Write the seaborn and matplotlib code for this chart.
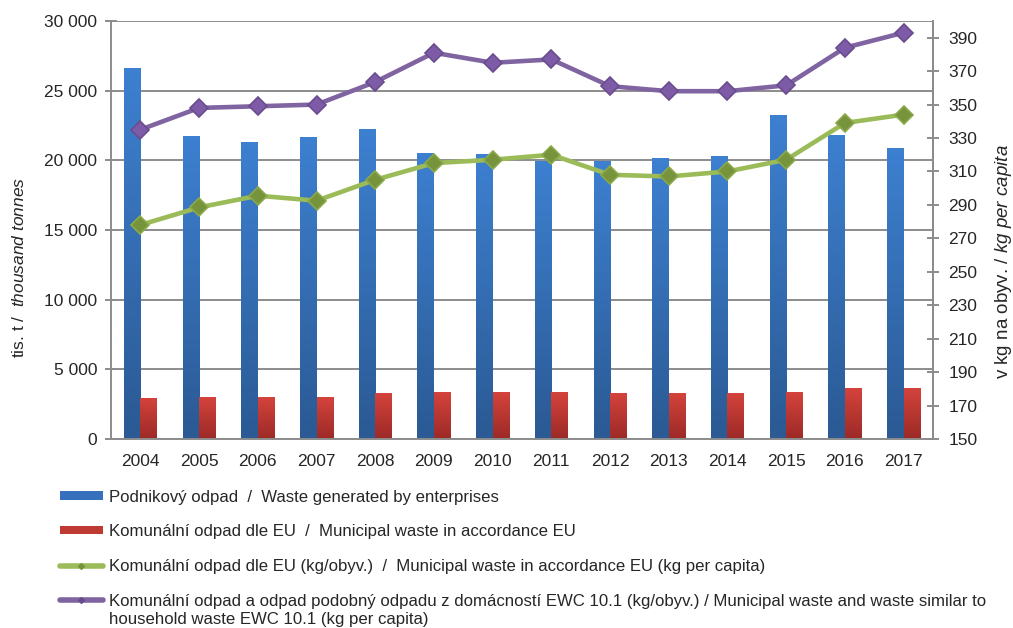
import numpy as np
import pandas as pd
import matplotlib
matplotlib.use('Agg')
import matplotlib.pyplot as plt
import seaborn as sns
from matplotlib.patches import Patch
from matplotlib.lines import Line2D
from matplotlib.colors import LinearSegmentedColormap

# values
years = ['2004', '2005', '2006', '2007', '2008', '2009', '2010',
         '2011', '2012', '2013', '2014', '2015', '2016', '2017']
enterprise_waste = [26600, 21750, 21320, 21680, 22250, 20530, 20450,
                    19970, 19950, 20170, 20310, 23250, 21820, 20890]
municipal_waste = [2950, 3010, 3010, 3000, 3300, 3370, 3370,
                   3370, 3300, 3300, 3300, 3370, 3660, 3660]
municipal_per_capita = [278, 288.5, 295.5, 292.5, 305, 315, 317,
                        320, 308, 307, 310, 317, 339, 344]
household_per_capita = [335, 348, 349, 350, 363.5, 381, 375,
                        377, 361, 358, 358, 361.5, 384, 393]

bar_labels = ['Podnikový odpad  /  Waste generated by enterprises',
              'Komunální odpad dle EU  /  Municipal waste in accordance EU']
line_labels = ['Komunální odpad dle EU (kg/obyv.)  /  Municipal waste in accordance EU (kg per capita)',
               'Komunální odpad a odpad podobný odpadu z domácností EWC 10.1 (kg/obyv.) / Municipal waste and waste similar to']
last_label_line2 = 'household waste EWC 10.1 (kg per capita)'

bars = pd.DataFrame({
    'year': years * 2,
    'value': enterprise_waste + municipal_waste,
    'series': [bar_labels[0]] * len(years) + [bar_labels[1]] * len(years),
})
lines = pd.DataFrame({
    'year': years * 2,
    'value': municipal_per_capita + household_per_capita,
    'series': [line_labels[0]] * len(years) + [line_labels[1]] * len(years),
})

sns.set_style('white')
plt.rcParams['font.family'] = ['Liberation Sans', 'DejaVu Sans']
plt.rcParams['mathtext.fontset'] = 'custom'
plt.rcParams['mathtext.rm'] = 'Liberation Sans'
plt.rcParams['mathtext.it'] = 'Liberation Sans:italic'

grey = '#8c8c8c'
fig = plt.figure(figsize=(10.13, 6.28), dpi=100)
ax = fig.add_axes([0.1096, 0.301, 0.8114, 0.6656])

sns.barplot(data=bars, x='year', y='value', hue='series',
            palette=['#3a78c6', '#c43c35'], width=0.56, gap=0,
            ax=ax, legend=False, saturation=1, linewidth=0)

# vertical gradients like the original bars
blue_cmap = LinearSegmentedColormap.from_list('b', ['#2b5a94', '#3d80d0'])
red_cmap = LinearSegmentedColormap.from_list('r', ['#9c2a27', '#d4433c'])
for i, p in enumerate(list(ax.patches)):
    cmap = blue_cmap if i < len(years) else red_cmap
    x0, y0 = p.get_x(), p.get_y()
    w, h = p.get_width(), p.get_height()
    if h <= 0:
        continue
    im = ax.imshow(np.linspace(0, 1, 64).reshape(-1, 1), cmap=cmap,
                   extent=[x0, x0 + w, y0, y0 + h], origin='lower',
                   aspect='auto', zorder=2)
    im.set_clip_path(p)

ax.set_xlim(-0.5, len(years) - 0.5)
ax.set_ylim(0, 30000)
ax.set_yticks(range(0, 30001, 5000))
ax.set_yticklabels([f'{v:,}'.replace(',', ' ') for v in range(0, 30001, 5000)])
ax.grid(axis='y', color=grey, linewidth=1.4)
ax.set_axisbelow(True)
ax.set_xlabel('')
ax.set_ylabel(r'tis. t /  $\mathit{thousand\ tonnes}$', fontsize=12.5)
ax.yaxis.set_label_coords(-0.102, 0.41)

ax2 = ax.twinx()
sns.pointplot(data=lines, x='year', y='value', hue='series',
              palette=['#9bbb59', '#8064a2'], markers='D', linestyles='-',
              errorbar=None, ax=ax2, legend=False, markersize=9.5, linewidth=3.3)
edge = {0: ('#77933c', '#8aaa4a'), 1: ('#7d5ba6', '#6a4c8e')}
for k, ln in enumerate(ax2.lines[:2]):
    ln.set_markerfacecolor(edge[k][0])
    ln.set_markeredgecolor(edge[k][1])
    ln.set_markeredgewidth(1.2)
ax2.set_xlim(-0.5, len(years) - 0.5)
ax2.set_ylim(150, 400)
ax2.set_yticks(range(150, 391, 20))
ax2.set_ylabel(r'v kg na obyv. / $\mathit{kg\ per\ capita}$', fontsize=13.5)
ax2.yaxis.set_label_coords(1.073, 0.4234)
ax2.set_xlabel('')

for a in (ax, ax2):
    for s in a.spines.values():
        s.set_color(grey)
        s.set_linewidth(1.4)
    a.spines['top'].set_visible(False)
ax2.spines['left'].set_visible(False)
ax2.spines['bottom'].set_visible(False)

ax.set_xticks(range(len(years)))
ax.set_xticklabels(years)
ax.set_xticks(np.arange(-0.5, len(years)), minor=True)
ax.tick_params(axis='x', which='major', length=0, pad=11, labelsize=12.5)
ax.tick_params(axis='x', which='minor', length=8, direction='inout',
               color=grey, width=1.4)
ax.tick_params(axis='y', length=8, direction='inout', color=grey, width=1.4,
               labelsize=12.5, pad=6)
ax2.tick_params(axis='y', length=8, direction='inout', color=grey, width=1.4,
                labelsize=12.5, pad=7)

handles = [
    Patch(facecolor='#3670bc', edgecolor='none'),
    Patch(facecolor='#bf3a33', edgecolor='none'),
    Line2D([], [], color='#9bbb59', lw=4, marker='D', markersize=3,
           markerfacecolor='#77933c', markeredgecolor='#77933c'),
    Line2D([], [], color='#8064a2', lw=4, marker='D', markersize=3,
           markerfacecolor='#6a4c8e', markeredgecolor='#6a4c8e'),
]
leg = fig.legend(handles, bar_labels + line_labels, loc='upper left',
                 bbox_to_anchor=(0.059, 0.2205), frameon=False, fontsize=12.1,
                 handlelength=2.55, handleheight=0.4, handletextpad=0.35,
                 labelspacing=1.17, borderaxespad=0, borderpad=0)

# second line of the last legend entry, under its first line
fig.canvas.draw()
bb = leg.get_texts()[-1].get_window_extent()
fig.text(bb.x0 / fig.bbox.width, (bb.y0 - 3) / fig.bbox.height,
         last_label_line2, fontsize=12.1, ha='left', va='top')

fig.savefig('out.png', dpi=100)
